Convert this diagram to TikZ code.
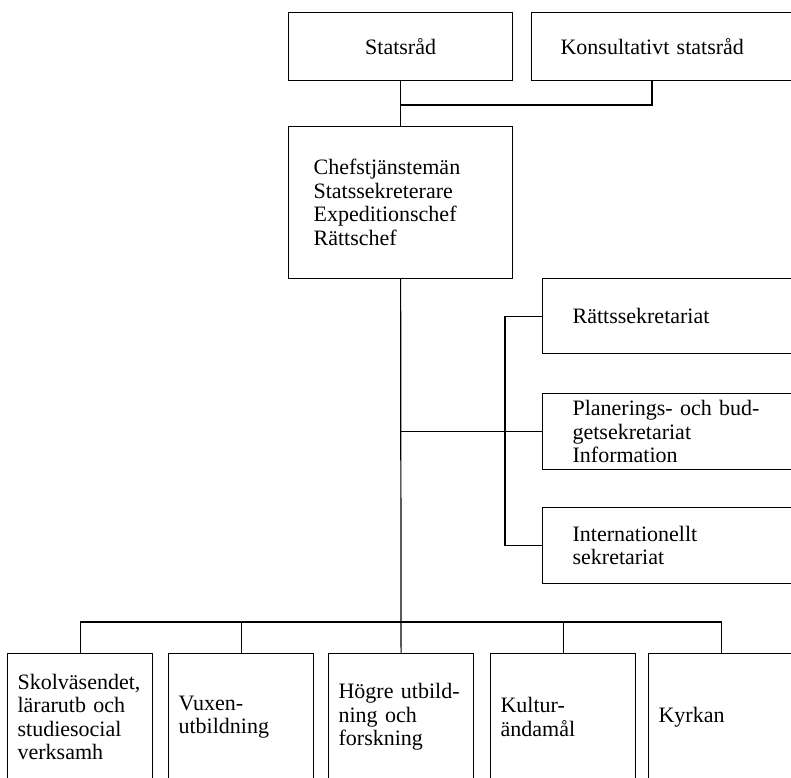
\documentclass[tikz,border=0pt]{standalone}
\usepackage{fontspec}
\setmainfont{Liberation Serif}
\tikzset{
  enhet/.style={draw, line width=1.2pt, rectangle, anchor=north west, align=left,
    inner xsep=10pt, inner ysep=0pt, text width=125pt,
    font=\fontsize{22}{23.5}\selectfont},
  linje/.style={line width=1.2pt}
}
\begin{document}
\begin{tikzpicture}[x=1pt,y=-1pt]
				% Khung của hình
				\useasboundingbox (0,0) rectangle (791,777);
				\clip (0,0) rectangle (791,777);
				
				% Hai ô trên cùng
				\node[enhet, align=center, text width=204pt, minimum height=68pt] (stat) at (288,12) {Statsråd};
				\node[enhet, inner xsep=29pt, text width=230pt, minimum height=68pt] (konsult) at (531,12) {Konsultativt statsråd};
				
				% Ô chính giữa
				\node[enhet, inner xsep=25pt, text width=174pt, minimum height=152pt] (chef) at (288,126) {Chefstjänstemän\\Statssekreterare\\Expeditionschef\\Rättschef};
				
				% Ba ô bên phải
				\node[enhet, inner xsep=30pt, text width=230pt, minimum height=75pt] (ratt) at (542,278) {Rättssekretariat};
				\node[enhet, inner xsep=30pt, text width=230pt, minimum height=76pt] (plan) at (542,393) {Planerings- och bud-\\getsekretariat\\Information};
				\node[enhet, inner xsep=30pt, text width=230pt, minimum height=76pt] (intl) at (542,507) {Internationellt\\sekretariat};
				
				% Năm ô phía dưới
				\node[enhet, minimum height=127pt] (skol) at (7,653) {Skolväsendet,\\lärarutb och\\studiesocial\\verksamh};
				\node[enhet, minimum height=127pt] (vuxen) at (168,653) {Vuxen-\\utbildning};
				\node[enhet, minimum height=127pt] (hogre) at (328,653) {Högre utbild-\\ning och\\forskning};
				\node[enhet, minimum height=127pt] (kultur) at (490,653) {Kultur-\\ändamål};
				\node[enhet, minimum height=127pt] (kyrka) at (648,653) {Kyrkan};
				
				% Các điểm nối
				\coordinate (topp) at (652,105);
				\coordinate (sida) at (505,432);
				\coordinate (buss) at (400,622);
				
				% Các đường nối
				\draw[linje] (stat.south) |- (topp) -- (topp |- konsult.south);
				\draw[linje] (stat.south) -- (chef.north);
				\draw[linje] (chef.south) -- (hogre.north);
				\draw[linje] (chef.south |- plan.west) -- (plan.west);
				\draw[linje] (ratt.west) -| (sida) |- (intl.west);
				\draw[linje] (skol.north) |- (buss) -| (kyrka.north);
				\draw[linje] (vuxen.north) -- (vuxen.north |- buss);
				\draw[linje] (kultur.north) -- (kultur.north |- buss);
\end{tikzpicture}
\end{document}
